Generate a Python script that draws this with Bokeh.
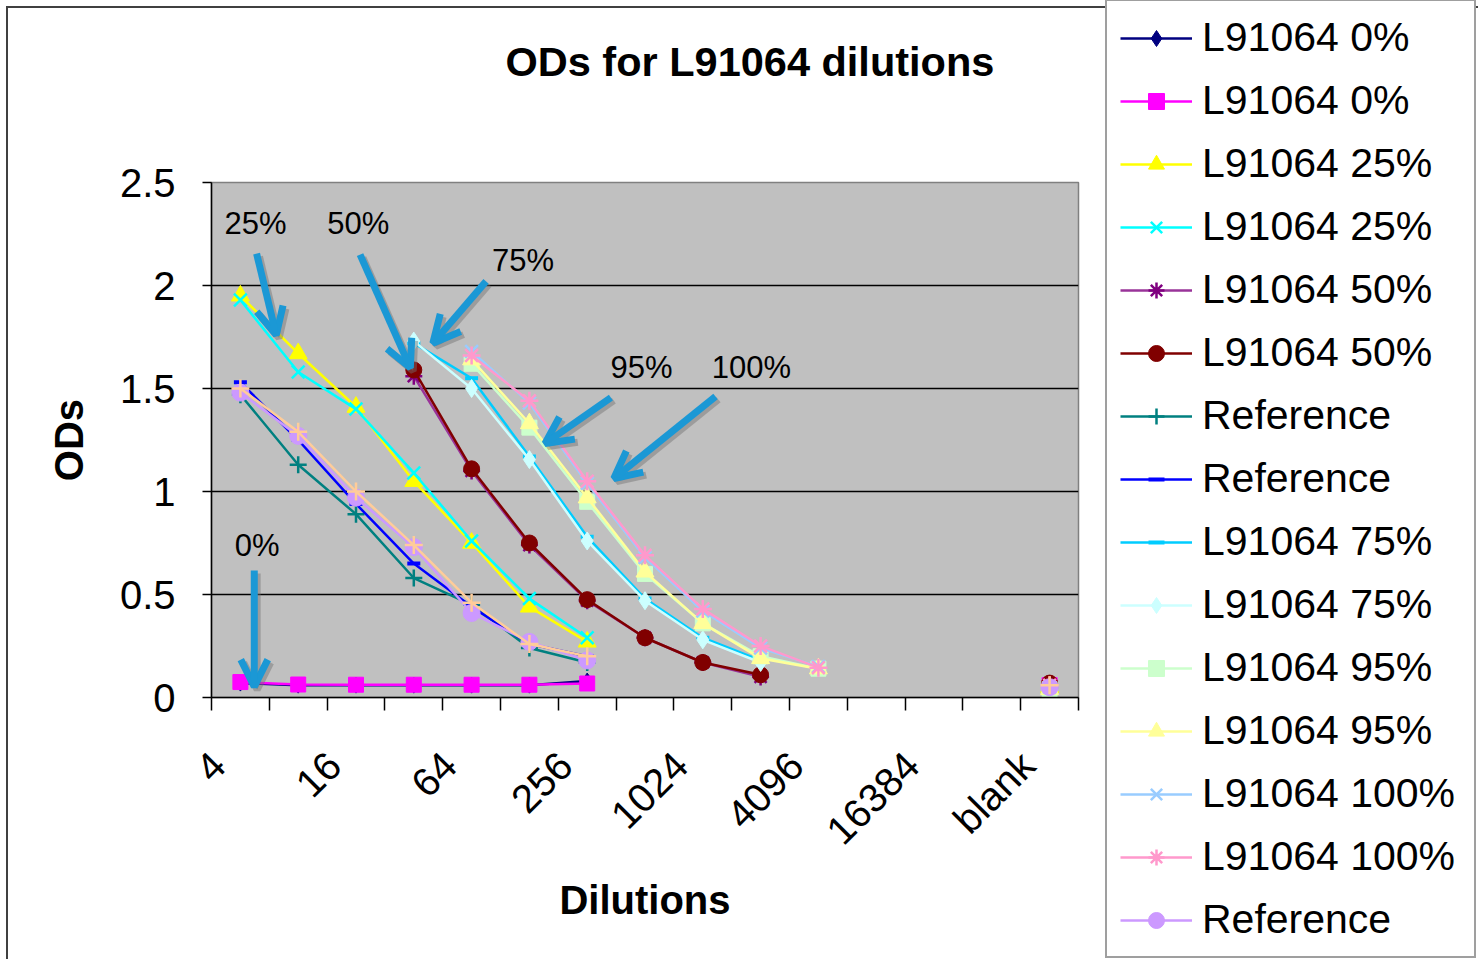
import numpy as np
from bokeh.plotting import figure
from bokeh.models import (FixedTicker, CustomJSTickFormatter, Legend, LegendItem,
                          Label, Arrow, OpenHead, Range1d, ColumnDataSource, Title)
from bokeh.embed import file_html
from bokeh.resources import INLINE

NaN = np.nan

# ---- data -------------------------------------------------------------
dilutions = ["4", "8", "16", "32", "64", "128", "256", "512", "1024", "2048",
             "4096", "8192", "16384", "32768", "blank"]

l0_a   = [0.07, 0.06, 0.06, 0.06, 0.06, 0.06, 0.08, NaN, NaN, NaN, NaN, NaN, NaN, NaN, 0.07]
l0_b   = [0.075, 0.063, 0.062, 0.062, 0.062, 0.062, 0.068, NaN, NaN, NaN, NaN, NaN, NaN, NaN, 0.06]
l25_a  = [1.95, 1.67, 1.41, 1.05, 0.75, 0.44, 0.27, NaN, NaN, NaN, NaN, NaN, NaN, NaN, 0.05]
l25_b  = [1.93, 1.58, 1.40, 1.09, 0.76, 0.48, 0.29, NaN, NaN, NaN, NaN, NaN, NaN, NaN, 0.05]
l50_a  = [NaN, NaN, NaN, 1.56, 1.10, 0.74, 0.47, 0.29, 0.17, 0.10, NaN, NaN, NaN, NaN, 0.06]
l50_b  = [NaN, NaN, NaN, 1.59, 1.11, 0.75, 0.475, 0.29, 0.17, 0.11, NaN, NaN, NaN, NaN, 0.07]
ref_a  = [1.47, 1.13, 0.89, 0.58, 0.45, 0.24, 0.17, NaN, NaN, NaN, NaN, NaN, NaN, NaN, 0.05]
ref_b  = [1.53, 1.25, 0.94, 0.65, 0.44, 0.26, 0.20, NaN, NaN, NaN, NaN, NaN, NaN, NaN, 0.07]
l75_a  = [NaN, NaN, NaN, 1.72, 1.55, 1.17, 0.78, 0.48, 0.29, 0.18, NaN, NaN, NaN, NaN, 0.05]
l75_b  = [NaN, NaN, NaN, 1.73, 1.50, 1.155, 0.76, 0.47, 0.28, 0.17, NaN, NaN, NaN, NaN, 0.05]
l95_a  = [NaN, NaN, NaN, NaN, 1.62, 1.31, 0.95, 0.60, 0.36, 0.20, 0.14, NaN, NaN, NaN, 0.04]
l95_b  = [NaN, NaN, NaN, NaN, 1.64, 1.33, 0.97, 0.61, 0.36, 0.19, 0.14, NaN, NaN, NaN, 0.04]
l100_a = [NaN, NaN, NaN, NaN, 1.68, 1.43, 1.04, 0.68, 0.42, 0.24, 0.15, NaN, NaN, NaN, 0.05]
l100_b = [NaN, NaN, NaN, NaN, 1.66, 1.44, 1.05, 0.69, 0.43, 0.25, 0.145, NaN, NaN, NaN, 0.06]
ref_c  = [1.48, 1.27, 0.97, 0.73, 0.41, 0.27, 0.18, NaN, NaN, NaN, NaN, NaN, NaN, NaN, 0.05]
ref_d  = [1.50, 1.29, 1.00, 0.74, 0.46, 0.26, 0.20, NaN, NaN, NaN, NaN, NaN, NaN, NaN, 0.06]

series_labels = ["L91064 0%", "L91064 0%", "L91064 25%", "L91064 25%", "L91064 50%",
                 "L91064 50%", "Reference", "Reference", "L91064 75%", "L91064 75%",
                 "L91064 95%", "L91064 95%", "L91064 100%", "L91064 100%", "Reference",
                 "Reference"]
series_values = [l0_a, l0_b, l25_a, l25_b, l50_a, l50_b, ref_a, ref_b, l75_a, l75_b,
                 l95_a, l95_b, l100_a, l100_b, ref_c, ref_d]

# ---- styles -----------------------------------------------------------
styles = [
    ("#000080", "#000080", "diamond", 16),
    ("#FF00FF", "#FF00FF", "square", 15),
    ("#FFFF00", "#FFFF00", "triangle", 18),
    ("#00FFFF", "#00FFFF", "x", 18),
    ("#993399", "#800080", "asterisk", 17),
    ("#800000", "#800000", "circle", 16),
    ("#008080", "#008080", "cross", 17),
    ("#0000FF", "#0000FF", "dash", 13),
    ("#00CCFF", "#00CCFF", "dash", 13),
    ("#CCFFFF", "#CCFFFF", "diamond", 18),
    ("#CCFFCC", "#CCFFCC", "square", 15),
    ("#FFFF99", "#FFFF99", "triangle", 18),
    ("#99CCFF", "#99CCFF", "x", 18),
    ("#FF99CC", "#FF99CC", "asterisk", 18),
    ("#CC99FF", "#CC99FF", "circle", 17),
    ("#FFCC99", "#FFCC99", "cross", 18),
]

FONT = "Liberation Sans"
ARROW = "#1B98D5"

p = figure(frame_width=867, frame_height=515,
           min_border_left=203, min_border_top=174, min_border_bottom=262,
           min_border_right=397,
           x_range=Range1d(-0.5, len(dilutions) - 0.5), y_range=Range1d(0, 2.5),
           output_backend="svg", toolbar_location=None,
           background_fill_color="#C0C0C0", border_fill_color="white",
           title=None,
           styles={"margin-left": "6px", "margin-top": "6px",
                   "border-left": "2px solid #404040", "border-top": "2px solid #404040"})

# spacer panel next to the frame, then the real title above it
p.add_layout(Title(text=" ", text_font_size="2px", standoff=94), "above")
p.add_layout(Title(text="ODs for L91064 dilutions", text_font=FONT, text_font_size="41.5px",
                   text_font_style="bold", text_color="black", align="left", offset=294,
                   standoff=0), "above")

p.outline_line_color = "#808080"
p.outline_line_width = 1.5
p.xgrid.grid_line_color = None
p.ygrid.grid_line_color = "black"
p.ygrid.grid_line_width = 1.5

# y axis
p.yaxis.ticker = FixedTicker(ticks=[0, 0.5, 1, 1.5, 2, 2.5], minor_ticks=[])
p.yaxis.formatter = CustomJSTickFormatter(code="return tick.toString();")
p.yaxis.axis_label = "ODs"
p.yaxis.axis_label_text_font = FONT
p.yaxis.axis_label_text_font_size = "40px"
p.yaxis.axis_label_text_font_style = "bold"
p.yaxis.axis_label_text_color = "black"
p.yaxis.axis_label_standoff = 26
p.yaxis.major_label_text_font = FONT
p.yaxis.major_label_text_font_size = "40px"
p.yaxis.major_label_text_color = "black"
p.yaxis.major_label_standoff = 27
p.yaxis.major_tick_out = 9
p.yaxis.major_tick_in = 0
p.yaxis.axis_line_color = "black"
p.yaxis.axis_line_width = 1.5
p.yaxis.major_tick_line_width = 1.5

# x axis (labels every second category, tick marks between categories)
p.xaxis.ticker = FixedTicker(ticks=[i - 0.38 for i in range(0, len(dilutions), 2)],
                             minor_ticks=[i - 0.5 for i in range(len(dilutions) + 1)])
p.xaxis.formatter = CustomJSTickFormatter(args=dict(labels=dilutions),
                                          code="return labels[Math.ceil(tick)] || '';")
p.xaxis.major_label_orientation = np.pi / 4
p.xaxis.axis_label = "Dilutions"
p.xaxis.axis_label_text_font = FONT
p.xaxis.axis_label_text_font_size = "40px"
p.xaxis.axis_label_text_font_style = "bold"
p.xaxis.axis_label_text_color = "black"
p.xaxis.axis_label_standoff = 7
p.xaxis.major_label_text_font = FONT
p.xaxis.major_label_text_font_size = "40px"
p.xaxis.major_label_text_color = "black"
p.xaxis.major_label_standoff = 48
p.xaxis.major_tick_out = 0
p.xaxis.major_tick_in = 0
p.xaxis.minor_tick_out = 13
p.xaxis.minor_tick_in = 0
p.xaxis.minor_tick_line_color = "black"
p.xaxis.minor_tick_line_width = 1.5
p.xaxis.axis_line_color = "black"
p.xaxis.axis_line_width = 1.5

x_idx = list(range(len(dilutions)))
items = []
for i, (lab, vals, (lc, mc, mk, sz)) in enumerate(zip(series_labels, series_values, styles)):
    src = ColumnDataSource(dict(x=x_idx, y=np.array(vals, dtype=float)))
    lr = p.line("x", "y", source=src, line_color=lc, line_width=2.5)
    if mk in ("x", "cross", "asterisk", "dash"):
        sr = p.scatter("x", "y", source=src, marker=mk, size=sz, line_color=mc,
                       fill_color=mc, line_width=4 if mk == "dash" else 2.5)
    else:
        sr = p.scatter("x", "y", source=src, marker=mk, size=sz, line_color=mc,
                       fill_color=mc, line_width=1)
    if i < 15:
        items.append(LegendItem(label=lab, renderers=[lr, sr]))

legend = Legend(items=items, location=(27, -261), margin=0,
                label_text_font=FONT, label_text_font_size="41px", label_text_color="black",
                glyph_width=72, glyph_height=40, label_height=40, label_width=259,
                spacing=16, padding=13, label_standoff=10,
                border_line_color="#404040", border_line_width=2,
                background_fill_color="white", background_fill_alpha=1.0)
p.add_layout(legend, "right")

# ---- annotations (percent markers with arrows) -----------------------------
notes = [
    ("25%", 0.26, 2.30, 0.28, 2.155, 0.62, 1.76),
    ("50%", 2.04, 2.30, 2.07, 2.15, 2.94, 1.60),
    ("75%", 4.89, 2.12, 4.25, 2.02, 3.33, 1.72),
    ("95%", 6.94, 1.60, 6.41, 1.456, 5.27, 1.233),
    ("100%", 8.84, 1.60, 8.22, 1.461, 6.46, 1.063),
    ("0%", 0.29, 0.74, 0.24, 0.617, 0.24, 0.053),
]
for txt, tx, ty, xs, ys, xe, ye in notes:
    p.add_layout(Arrow(x_start=xs + 0.05, y_start=ys - 0.015, x_end=xe + 0.05, y_end=ye - 0.015,
                       line_color="#707070", line_alpha=0.45, line_width=7,
                       end=OpenHead(size=27, line_color="#707070", line_alpha=0.45, line_width=7)))
    p.add_layout(Arrow(x_start=xs, y_start=ys, x_end=xe, y_end=ye,
                       line_color=ARROW, line_width=7,
                       end=OpenHead(size=27, line_color=ARROW, line_width=7)))
    p.add_layout(Label(x=tx, y=ty, text=txt, text_align="center", text_baseline="middle",
                       text_font=FONT, text_font_size="31px", text_color="black"))

open("out.html", "w").write(file_html(p, INLINE))
